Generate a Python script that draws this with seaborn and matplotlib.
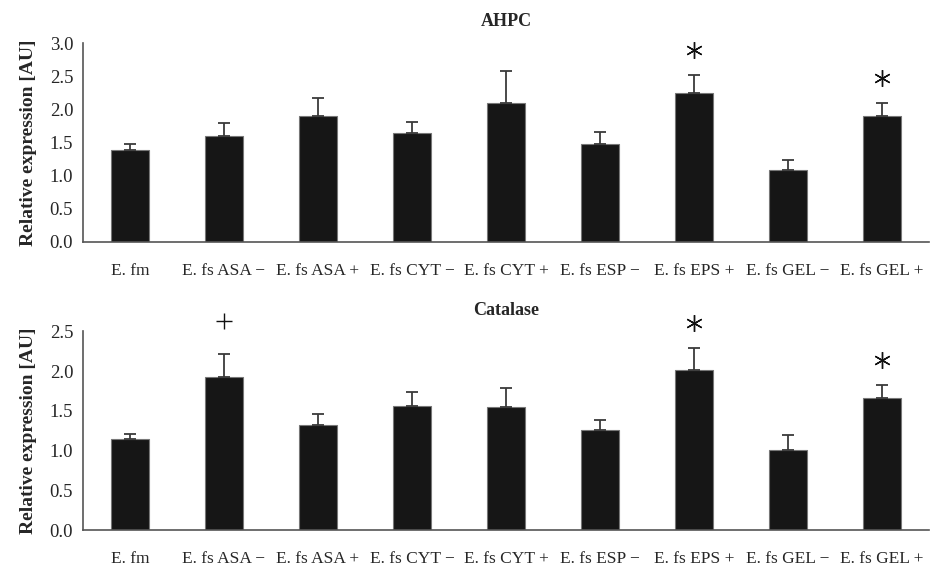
import matplotlib
matplotlib.use("Agg")
import matplotlib.pyplot as plt
from matplotlib.transforms import offset_copy
import seaborn as sns
import numpy as np
import pandas as pd

categories = ["E. fm", "E. fs ASA \u2212", "E. fs ASA +", "E. fs CYT \u2212", "E. fs CYT +",
              "E. fs ESP \u2212", "E. fs EPS +", "E. fs GEL \u2212", "E. fs GEL +"]

ahpc_mean = [1.38, 1.60, 1.90, 1.64, 2.09, 1.47, 2.25, 1.08, 1.90]
ahpc_err = [0.09, 0.20, 0.27, 0.17, 0.49, 0.19, 0.27, 0.15, 0.20]
ahpc_marks = ["", "", "", "", "", "", "*", "", "*"]

cat_mean = [1.14, 1.93, 1.32, 1.56, 1.55, 1.26, 2.01, 1.01, 1.66]
cat_err = [0.07, 0.28, 0.14, 0.18, 0.24, 0.12, 0.28, 0.19, 0.16]
cat_marks = ["", "+", "", "", "", "", "*", "", "*"]

ahpc_ticks = [0.0, 0.5, 1.0, 1.5, 2.0, 2.5, 3.0]
cat_ticks = [0.0, 0.5, 1.0, 1.5, 2.0, 2.5]

sns.set_style("white")
plt.rcParams['font.family'] = ['Liberation Serif', 'DejaVu Serif']

fig = plt.figure(figsize=(9.3, 5.69), dpi=100)
ax1 = fig.add_axes([0.0892, 0.5747, 0.9097, 0.3497])
ax2 = fig.add_axes([0.0892, 0.0685, 0.9097, 0.3492])

panels = [
    (ax1, "AHPC", ahpc_mean, ahpc_err, ahpc_marks, ahpc_ticks),
    (ax2, "Catalase", cat_mean, cat_err, cat_marks, cat_ticks),
]

spine_col = "#555555"
for ax, title, mean, err, marks, yt in panels:
    df = pd.DataFrame({"cat": categories, "val": mean})
    sns.barplot(data=df, x="cat", y="val", ax=ax, color="#161616", width=0.41,
                saturation=1, errorbar=None, edgecolor="#777777", linewidth=0.8)
    x = np.arange(len(categories))
    ax.errorbar(x, mean, yerr=[np.zeros(len(mean)), err], fmt="none",
                ecolor="#3a3a3a", elinewidth=1.3, capsize=4, capthick=1.3, zorder=3)
    star_tr = offset_copy(ax.transData, fig=fig, x=0, y=18, units="points")
    plus_tr = offset_copy(ax.transData, fig=fig, x=0, y=24, units="points")
    for xi, m, e, mk in zip(x, mean, err, marks):
        if mk == "*":
            ax.plot([xi], [m + e], marker=(6, 2, 0), markersize=12, mew=1.0,
                    color="#111111", transform=star_tr, clip_on=False, zorder=4)
        elif mk == "+":
            ax.plot([xi], [m + e], marker="+", markersize=11, mew=1.0,
                    color="#111111", transform=plus_tr, clip_on=False, zorder=4)
    ax.set_xlim(-0.5, len(categories) - 0.5)
    ax.set_ylim(0, yt[-1])
    ax.set_yticks(yt)
    ax.set_yticklabels([f"{v:.1f}" for v in yt], fontsize=13.5)
    ax.set_xticks(np.arange(len(categories) + 1) - 0.5)
    ax.set_xticklabels([])
    ax.set_xticks(x, minor=True)
    ax.set_xticklabels(categories, minor=True, fontsize=12.5)
    ax.tick_params(axis="x", which="major", direction="out", length=6, width=1, color=spine_col)
    ax.tick_params(axis="x", which="minor", length=0, pad=15)
    ax.tick_params(axis="y", direction="out", length=5, width=1, color=spine_col, pad=2)
    ax.set_xlabel("")
    ax.set_ylabel("Relative expression [AU]", fontsize=14, fontweight="bold", labelpad=9)
    ax.set_title(title, fontsize=13, fontweight="bold", pad=12)
    for s in ["top", "right"]:
        ax.spines[s].set_visible(False)
    for s in ["left", "bottom"]:
        ax.spines[s].set_color(spine_col)
        ax.spines[s].set_linewidth(1.2)

fig.savefig("out.png", dpi=100)
